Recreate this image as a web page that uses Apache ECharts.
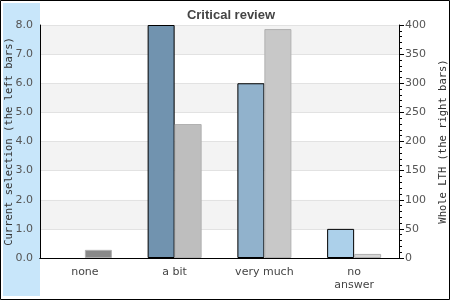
<!DOCTYPE html>
<html><head><meta charset="utf-8">
<script src="https://cdn.jsdelivr.net/npm/echarts@6/dist/echarts.min.js"></script>
<style>html,body{margin:0;padding:0;background:#fff}#c{width:450px;height:300px}</style>
</head><body><div id="c"></div>
<script>
const categories = ['none', 'a bit', 'very much', 'no\nanswer'];
const currentSelection = [0, 8, 6, 1];
const wholeLTH = [14, 230, 393, 7];
const leftTicks = [0, 1, 2, 3, 4, 5, 6, 7, 8];
const rightTicks = [0, 50, 100, 150, 200, 250, 300, 350, 400];
const leftColors = ['#7193af', '#7193af', '#91b2cc', '#acd0ea'];
const rightColors = ['#898989', '#bebebe', '#c8c8c8', '#d6d6d6'];

const chart = echarts.init(document.getElementById('c'), null, {renderer: 'canvas'});
chart.setOption({
  animation: false,
  backgroundColor: '#fff',
  title: {
    text: 'Critical review', left: 226, textAlign: 'center', top: 4,
    textStyle: {fontFamily: 'Liberation Sans', fontWeight: 'bold', fontSize: 13, color: '#444'}
  },
  graphic: [
    {type: 'rect', z: -10, silent: true, shape: {x: 3, y: 3, width: 37, height: 293}, style: {fill: '#c8e6fa'}},
    {type: 'rect', z: 100, silent: true, shape: {x: 0.5, y: 0.5, width: 449, height: 299}, style: {fill: null, stroke: '#000', lineWidth: 1}}
  ],
  grid: {left: 40, right: 51, top: 25, bottom: 42, containLabel: false, outerBoundsMode: 'none'},
  xAxis: [{
    type: 'category', data: categories, position: 'bottom',
    axisLine: {lineStyle: {color: '#000', width: 1}},
    axisTick: {show: false},
    axisLabel: {fontFamily: 'DejaVu Sans', fontSize: 11, color: '#444', margin: 8, lineHeight: 13}
  }, {
    type: 'category', data: categories, position: 'top',
    axisLine: {show: true, lineStyle: {color: '#000', width: 1}},
    axisTick: {show: false}, axisLabel: {show: false}
  }],
  yAxis: [{
    type: 'value', min: leftTicks[0], max: leftTicks[leftTicks.length - 1], interval: 1, position: 'left',
    name: 'Current selection (the left bars)', nameLocation: 'middle', nameRotate: 90, nameGap: 31, nameMoveOverlap: false,
    nameTextStyle: {fontFamily: 'DejaVu Sans Mono', fontSize: 10.5, color: '#333', verticalAlign: 'middle'},
    axisLine: {show: true, lineStyle: {color: '#000', width: 1}},
    axisTick: {show: false},
    axisLabel: {fontFamily: 'DejaVu Sans', fontSize: 11, color: '#555', margin: 7, formatter: v => v.toFixed(1)},
    splitLine: {show: true, lineStyle: {color: '#e2e2e2', width: 1}},
    splitArea: {show: true, areaStyle: {color: ['#ffffff', '#f3f3f3']}}
  }, {
    type: 'value', min: rightTicks[0], max: rightTicks[rightTicks.length - 1], interval: 50, position: 'right',
    name: 'Whole LTH (the right bars)', nameLocation: 'middle', nameRotate: 90, nameGap: 44, nameMoveOverlap: false,
    nameTextStyle: {fontFamily: 'DejaVu Sans Mono', fontSize: 10.5, color: '#333', verticalAlign: 'middle'},
    axisLine: {show: true, lineStyle: {color: '#000', width: 1}},
    axisTick: {show: true, length: 5, lineStyle: {color: '#000'}},
    minorTick: {show: true, splitNumber: 5, length: 3, lineStyle: {color: '#000'}},
    axisLabel: {fontFamily: 'DejaVu Sans', fontSize: 11, color: '#555', margin: 6},
    splitLine: {show: false}
  }],
  series: [{
    type: 'bar', name: 'Current selection', xAxisIndex: 0, yAxisIndex: 0,
    barWidth: 27, barGap: '0%',
    data: currentSelection.map((v, i) => ({value: v, itemStyle: {color: leftColors[i], borderColor: '#000', borderWidth: v > 0 ? 1 : 0}}))
  }, {
    type: 'bar', name: 'Whole LTH', xAxisIndex: 0, yAxisIndex: 1,
    barWidth: 27, barGap: '0%',
    data: wholeLTH.map((v, i) => ({value: v, itemStyle: {color: rightColors[i], borderColor: '#b0b0b0', borderWidth: 1}}))
  }]
});
</script></body></html>
